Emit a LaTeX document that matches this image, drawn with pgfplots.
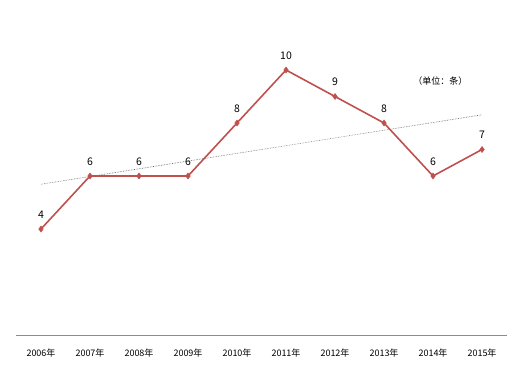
\documentclass[border=0pt]{standalone}
\usepackage{pgfplots}
\pgfplotsset{compat=1.18}
\usepackage{fontspec}
\setmainfont{Noto Sans CJK SC}
\definecolor{lineR}{HTML}{C0504D}
\begin{document}
\begin{tikzpicture}[x=1pt,y=1pt]
\useasboundingbox (0,0) rectangle (523,376);
\begin{axis}[
  at={(16.5pt,41pt)}, anchor=south west,
  scale only axis, width=490pt, height=318pt,
  xmin=-0.5, xmax=9.5, ymin=0, ymax=12,
  axis x line*=bottom, axis y line=none,
  x axis line style={draw=gray!90, line width=0.8pt, -},
  xtick={0,...,9},
  xticklabels={2006年,2007年,2008年,2009年,2010年,2011年,2012年,2013年,2014年,2015年},
  major tick length=0pt,
  xticklabel style={font=\fontsize{9}{10}\selectfont, yshift=-10pt},
  /pgf/number format/assume math mode=true,
  clip=false,
]
\addplot[black!60, densely dotted, line width=0.6pt] coordinates {(0,5.69) (9,8.31)};
\addplot[lineR, line width=1.6pt, mark=diamond*, mark size=3pt,
  mark options={fill=lineR, draw=lineR, line width=0.5pt},
  nodes near coords, every node near coord/.append style={black, font=\fontsize{10.5}{12}\selectfont, yshift=7pt}]
  coordinates {(0,4) (1,6) (2,6) (3,6) (4,8) (5,10) (6,9) (7,8) (8,6) (9,7)};
\node[font=\fontsize{9}{10}\selectfont] at (axis cs:8.15,9.6) {（单位：条）};
\end{axis}
\end{tikzpicture}
\end{document}
